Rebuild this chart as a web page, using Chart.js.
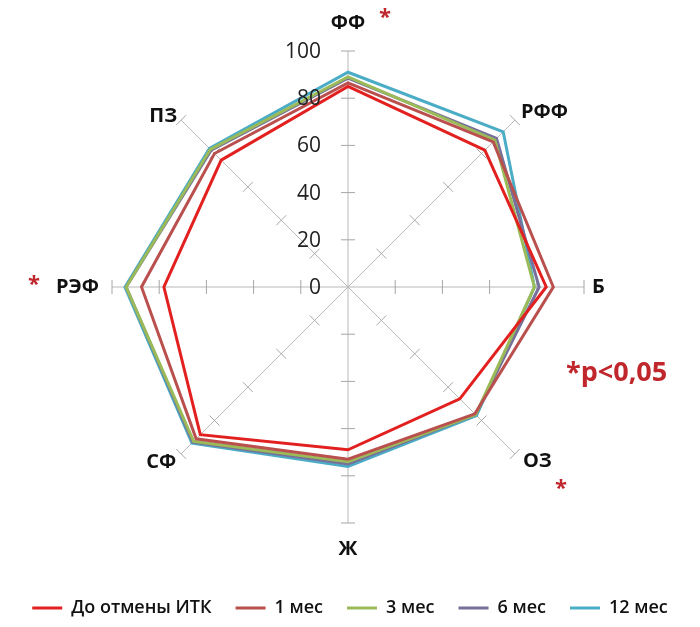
<!DOCTYPE html>
<html>
<head>
<meta charset="utf-8">
<script src="https://cdn.jsdelivr.net/npm/chart.js@4.4.1/dist/chart.umd.min.js"></script>
<style>
  html, body { margin: 0; padding: 0; background: #fff; }
  #wrap { position: relative; width: 700px; height: 627px; }
</style>
</head>
<body>
<div id="wrap"><canvas id="c"></canvas></div>
<script>
// Quality-of-life domains (axes, clockwise from the top)
const axes = ['ФФ', 'РФФ', 'Б', 'ОЗ', 'Ж', 'СФ', 'РЭФ', 'ПЗ'];

// Scores per follow-up point
const beforeStop = [85, 82, 84, 67, 69, 88.5, 78, 76];
const month1     = [86.5, 87, 87, 76, 73, 91, 87.5, 80];
const month3     = [89, 88, 79, 76.5, 74, 92.5, 94, 82.5];
const month6     = [88.5, 89, 81, 76.5, 75, 93, 94, 82];
const month12    = [91, 93, 79, 77, 76, 93.5, 94.5, 83];

const seriesNames = ['До отмены ИТК', '1 мес', '3 мес', '6 мес', '12 мес'];
const seriesColors = ['#e2201f', '#b9504e', '#9bbb59', '#76709a', '#4bacc6'];

// Radial scale ticks
const tickValues = [0, 20, 40, 60, 80, 100];

// Axes marked as significant
const starredAxes = ['ФФ', 'РЭФ', 'ОЗ'];
const noteText = '*p<0,05';

const family = '"Open Sans", "Liberation Sans", sans-serif';
const labelFont = 'bold 20px ' + family;
const tickFont = '21px ' + family;
const starColor = '#c0272d';

const seriesValues = [beforeStop, month1, month3, month6, month12];

// Label placement relative to each axis end: [dx, dy, align]
const labelPlace = [
  [0, -28, 'center'],
  [6, -8, 'left'],
  [8, 0, 'left'],
  [8, 7, 'left'],
  [0, 26, 'center'],
  [-5, 8, 'right'],
  [-13, 0, 'right'],
  [-4, -4, 'right']
];
const starPlace = { 'ФФ': [37, -33], 'РЭФ': [-78, -2], 'ОЗ': [46, 35] };

// Axis tick crosses, value labels, domain names and significance marks
const radarDecor = {
  id: 'radarDecor',
  beforeDatasetsDraw(chart) {
    const s = chart.scales.r;
    const ctx = chart.ctx;
    ctx.save();
    ctx.strokeStyle = '#a6a6a6';
    ctx.lineWidth = 1;
    axes.forEach((name, i) => {
      const a = s.getIndexAngle(i) - Math.PI / 2;
      const px = -Math.sin(a), py = Math.cos(a);
      tickValues.forEach(v => {
        if (v === 0) return;
        const p = s.getPointPositionForValue(i, v);
        ctx.beginPath();
        ctx.moveTo(p.x - px * 7, p.y - py * 7);
        ctx.lineTo(p.x + px * 7, p.y + py * 7);
        ctx.stroke();
      });
    });
    ctx.restore();
  },
  afterDatasetsDraw(chart) {
    const s = chart.scales.r;
    const ctx = chart.ctx;
    ctx.save();
    // value labels along the top axis
    ctx.font = tickFont;
    ctx.fillStyle = '#222';
    ctx.textAlign = 'right';
    ctx.textBaseline = 'middle';
    tickValues.forEach(v => {
      const p = s.getPointPositionForValue(0, v);
      ctx.fillText(String(v), p.x - 27, p.y + 1);
    });
    // domain names just outside each axis end
    ctx.font = labelFont;
    ctx.fillStyle = '#111';
    axes.forEach((name, i) => {
      const p = s.getPointPositionForValue(i, 100);
      const lp = labelPlace[i];
      ctx.textAlign = lp[2];
      ctx.fillText(name, p.x + lp[0], p.y + lp[1]);
    });
    // significance marks
    ctx.fillStyle = starColor;
    ctx.textAlign = 'center';
    ctx.font = 'bold 22px ' + family;
    axes.forEach((name, i) => {
      if (!starredAxes.includes(name)) return;
      const p = s.getPointPositionForValue(i, 100);
      const o = starPlace[name];
      ctx.fillText('*', p.x + o[0], p.y + o[1]);
    });
    ctx.font = 'bold 27px ' + family;
    ctx.textAlign = 'left';
    ctx.fillText(noteText, 566, 373);
    ctx.restore();
  }
};

new Chart(document.getElementById('c'), {
  type: 'radar',
  data: {
    labels: axes,
    datasets: seriesValues.map((vals, k) => ({
      label: seriesNames[k],
      data: vals,
      borderColor: seriesColors[k],
      backgroundColor: seriesColors[k],
      borderWidth: 3,
      fill: false,
      pointRadius: 0,
      pointHoverRadius: 0,
      tension: 0
    }))
  },
  options: {
    responsive: true,
    maintainAspectRatio: false,
    animation: false,
    events: [],
    layout: { padding: 0 },
    scales: {
      r: {
        min: 0,
        max: 100,
        ticks: { stepSize: 20, display: false },
        grid: { display: false },
        angleLines: { display: true, color: '#b8b8b8', lineWidth: 1 },
        pointLabels: { display: false },
        afterFit(scale) {
          scale.xCenter = 348;
          scale.yCenter = 287;
          scale.drawingArea = 236;
        }
      }
    },
    plugins: {
      tooltip: { enabled: false },
      legend: {
        position: 'bottom',
        labels: {
          boxWidth: 30,
          boxHeight: 3,
          padding: 24,
          color: '#111',
          font: { family: family, size: 18, weight: '600' },
          generateLabels(chart) {
            const items = Chart.defaults.plugins.legend.labels.generateLabels(chart);
            items.forEach(it => { it.lineWidth = 0; });
            return items;
          }
        }
      }
    }
  },
  plugins: [radarDecor]
});
</script>
</body>
</html>
